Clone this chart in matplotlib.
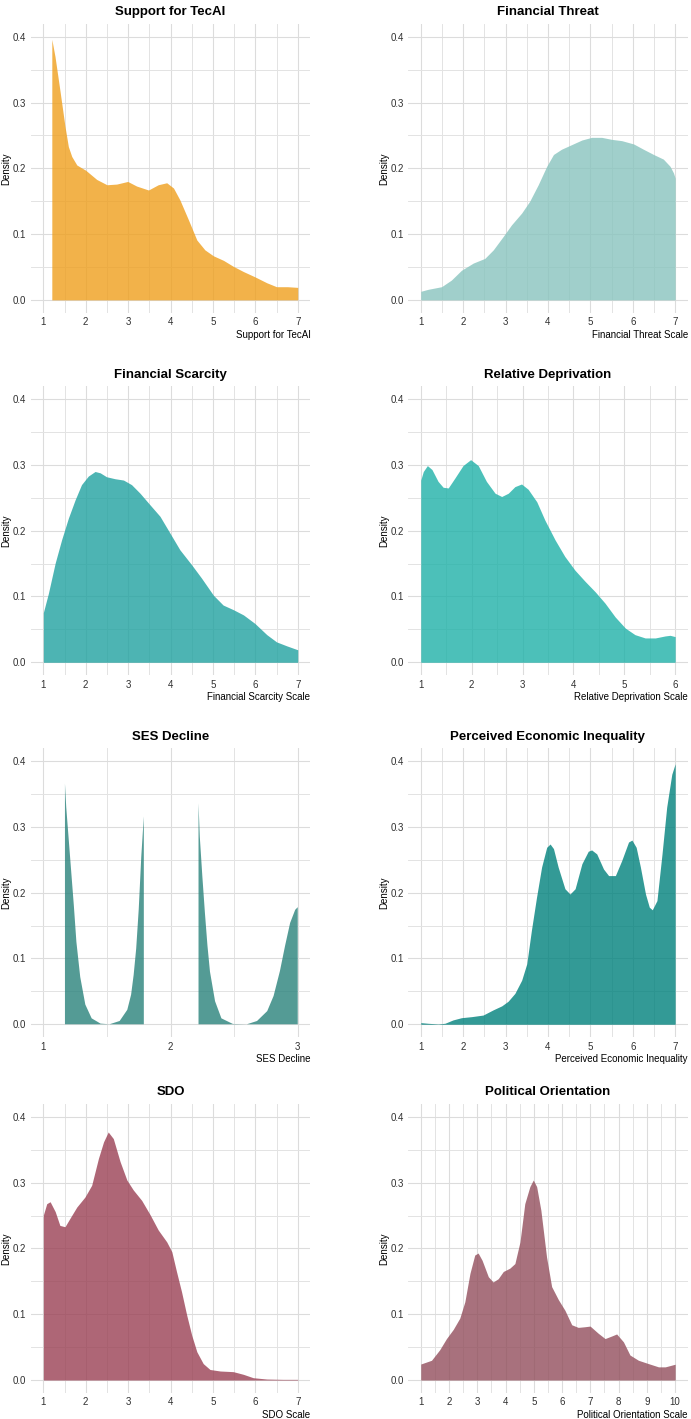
import numpy as np
import matplotlib.pyplot as plt

plt.rcParams['font.family'] = ['Liberation Sans', 'DejaVu Sans']

# titulos, etiquetas y colores de cada panel
titles = ["Support for TecAI", "Financial Threat", "Financial Scarcity", "Relative Deprivation",
          "SES Decline", "Perceived Economic Inequality", "SDO", "Political Orientation"]
xlabels = ["Support for TecAI", "Financial Threat Scale", "Financial Scarcity Scale",
           "Relative Deprivation Scale", "SES Decline", "Perceived Economic Inequality",
           "SDO Scale", "Political Orientation Scale"]
colors = ["#EF9F1D", "#88C4BE", "#20A2A0", "#1FB1A8", "#29827B", "#00817C", "#9A4054", "#924E5C"]
x_ranges = [(1, 7), (1, 7), (1, 7), (1, 6), (1, 3), (1, 7), (1, 7), (1, 10)]

# curvas de densidad
support_x = [1.2, 1.275, 1.39, 1.51, 1.59, 1.67, 1.79, 2.0, 2.26, 2.5, 2.73, 2.99, 3.2, 3.48, 3.71,
             3.91, 4.07, 4.22, 4.42, 4.62, 4.81, 5.01, 5.25, 5.48, 5.72, 5.99, 6.27, 6.5, 6.76, 7.0]
support_y = [0.396, 0.370, 0.319, 0.264, 0.233, 0.218, 0.205, 0.197, 0.183, 0.175, 0.176, 0.180,
             0.173, 0.167, 0.175, 0.178, 0.170, 0.152, 0.122, 0.091, 0.076, 0.067, 0.060, 0.051,
             0.043, 0.035, 0.026, 0.020, 0.020, 0.019]

threat_x = [1.0, 1.17, 1.49, 1.72, 1.96, 2.24, 2.51, 2.71, 2.94, 3.14, 3.38, 3.57, 3.77, 3.97, 4.13,
            4.32, 4.56, 4.80, 5.03, 5.27, 5.50, 5.74, 6.02, 6.25, 6.49, 6.72, 6.88, 6.96, 7.0]
threat_y = [0.013, 0.016, 0.020, 0.030, 0.045, 0.056, 0.063, 0.076, 0.096, 0.114, 0.132, 0.150,
            0.175, 0.203, 0.221, 0.229, 0.236, 0.243, 0.247, 0.247, 0.244, 0.242, 0.237, 0.229,
            0.221, 0.214, 0.203, 0.193, 0.185]

scarcity_x = [1.0, 1.12, 1.28, 1.43, 1.59, 1.75, 1.90, 2.06, 2.22, 2.34, 2.49, 2.69, 2.89, 3.08,
              3.28, 3.52, 3.75, 3.99, 4.22, 4.50, 4.73, 5.01, 5.24, 5.48, 5.72, 5.99, 6.27, 6.50,
              6.74, 7.0]
scarcity_y = [0.0755, 0.105, 0.151, 0.186, 0.219, 0.247, 0.270, 0.283, 0.290, 0.288, 0.282, 0.279,
              0.277, 0.270, 0.257, 0.239, 0.222, 0.196, 0.171, 0.148, 0.128, 0.102, 0.087, 0.080,
              0.072, 0.059, 0.042, 0.031, 0.025, 0.019]

reldep_x = [1.0, 1.05, 1.13, 1.22, 1.34, 1.44, 1.54, 1.67, 1.83, 1.98, 2.13, 2.29, 2.46, 2.59, 2.72,
            2.85, 2.98, 3.11, 3.28, 3.44, 3.64, 3.83, 4.03, 4.23, 4.43, 4.62, 4.82, 5.02, 5.21,
            5.41, 5.61, 5.80, 5.90, 6.0]
reldep_y = [0.277, 0.290, 0.299, 0.293, 0.275, 0.266, 0.265, 0.280, 0.299, 0.308, 0.299, 0.275,
            0.257, 0.252, 0.257, 0.267, 0.271, 0.263, 0.244, 0.216, 0.186, 0.161, 0.140, 0.123,
            0.107, 0.090, 0.069, 0.052, 0.042, 0.037, 0.037, 0.040, 0.041, 0.039]

# los tramos por encima de 0.4 quedan fuera (hueco = nan)
ses_x = [1.17, 1.18, 1.20, 1.22, 1.24, 1.26, 1.29, 1.33, 1.38, 1.45, 1.52, 1.60, 1.66, 1.69, 1.71,
         1.73, 1.75, 1.77, 1.79, 2.0, 2.22, 2.23, 2.25, 2.27, 2.29, 2.31, 2.35, 2.40, 2.49, 2.60,
         2.68, 2.76, 2.81, 2.86, 2.90, 2.94, 2.98, 3.0]
ses_y = [0.366, 0.330, 0.280, 0.230, 0.180, 0.125, 0.072, 0.030, 0.009, 0.001, 0.0, 0.005, 0.022,
         0.045, 0.075, 0.115, 0.175, 0.255, 0.316, np.nan, 0.336, 0.285, 0.225, 0.170, 0.120,
         0.080, 0.035, 0.009, 0.0005, 0.0, 0.005, 0.020, 0.043, 0.081, 0.119, 0.154, 0.174, 0.178]

pei_x = [1.0, 1.17, 1.41, 1.57, 1.76, 1.96, 2.20, 2.47, 2.71, 2.91, 3.06, 3.22, 3.38, 3.50, 3.61,
         3.73, 3.85, 3.97, 4.05, 4.13, 4.24, 4.40, 4.52, 4.64, 4.80, 4.95, 5.03, 5.15, 5.31, 5.43,
         5.59, 5.74, 5.90, 5.98, 6.08, 6.18, 6.30, 6.39, 6.46, 6.57, 6.69, 6.80, 6.92, 7.0]
pei_y = [0.0025, 0.0015, 0.0005, 0.0015, 0.0066, 0.010, 0.0116, 0.014, 0.022, 0.028, 0.035, 0.047,
         0.067, 0.092, 0.143, 0.193, 0.239, 0.269, 0.274, 0.267, 0.239, 0.206, 0.198, 0.206,
         0.244, 0.263, 0.265, 0.259, 0.236, 0.226, 0.226, 0.249, 0.277, 0.280, 0.269, 0.239,
         0.198, 0.178, 0.174, 0.188, 0.259, 0.330, 0.380, 0.396]

sdo_x = [1.0, 1.08, 1.16, 1.28, 1.39, 1.51, 1.63, 1.79, 1.98, 2.14, 2.30, 2.42, 2.53, 2.65, 2.81,
         2.97, 3.12, 3.32, 3.52, 3.71, 3.91, 4.03, 4.14, 4.26, 4.38, 4.50, 4.62, 4.77, 4.93, 5.17,
         5.48, 5.72, 5.95, 6.27, 6.66, 7.0]
sdo_y = [0.2506, 0.268, 0.271, 0.256, 0.235, 0.233, 0.246, 0.263, 0.278, 0.296, 0.337, 0.362,
         0.377, 0.367, 0.332, 0.304, 0.289, 0.273, 0.251, 0.228, 0.210, 0.195, 0.165, 0.134,
         0.099, 0.068, 0.043, 0.025, 0.016, 0.0137, 0.0127, 0.0086, 0.0035, 0.0015, 0.001, 0.001]

polit_x = [1.0, 1.38, 1.67, 1.91, 2.15, 2.38, 2.56, 2.74, 2.91, 3.03, 3.17, 3.39, 3.56, 3.74, 3.92,
           4.15, 4.33, 4.51, 4.68, 4.86, 4.98, 5.10, 5.25, 5.45, 5.63, 5.87, 6.10, 6.34, 6.57,
           6.81, 6.99, 7.28, 7.52, 7.76, 7.93, 8.17, 8.40, 8.70, 9.05, 9.41, 9.65, 10.0]
polit_y = [0.0243, 0.030, 0.046, 0.063, 0.077, 0.094, 0.119, 0.162, 0.190, 0.193, 0.182, 0.157,
           0.149, 0.154, 0.165, 0.170, 0.177, 0.210, 0.268, 0.294, 0.304, 0.294, 0.258, 0.187,
           0.142, 0.122, 0.106, 0.084, 0.080, 0.081, 0.082, 0.071, 0.063, 0.067, 0.070, 0.058,
           0.038, 0.030, 0.025, 0.020, 0.020, 0.024]

curves = [(support_x, support_y), (threat_x, threat_y), (scarcity_x, scarcity_y),
          (reldep_x, reldep_y), (ses_x, ses_y), (pei_x, pei_y), (sdo_x, sdo_y),
          (polit_x, polit_y)]

fig = plt.figure(figsize=(6.91, 14.19), dpi=100)

# posiciones de los paneles (fraccion de figura)
lefts = [0.0443, 0.5905]
bottoms = [0.7794, 0.5240, 0.2689, 0.0182]
w, h = 0.405, 0.2040

for i in range(8):
    row, col = i // 2, i % 2
    ax = fig.add_axes([lefts[col], bottoms[row], w, h])
    lo, hi = x_ranges[i]
    pad = 0.05 * (hi - lo)
    ax.set_xlim(lo - pad, hi + pad)
    ax.set_ylim(-0.02, 0.42)

    # rejilla tipo ggplot minimal
    ax.set_xticks(np.arange(lo, hi + 1))
    ax.set_xticks(np.arange(lo + 0.5, hi, 1), minor=True)
    ax.set_yticks([0.0, 0.1, 0.2, 0.3, 0.4])
    ax.set_yticks([0.05, 0.15, 0.25, 0.35], minor=True)
    ax.set_yticklabels(["0.0", "0.1", "0.2", "0.3", "0.4"])
    ax.grid(which='major', color='#DCDCDC', linewidth=0.8)
    ax.grid(which='minor', color='#E3E3E3', linewidth=0.7)
    ax.set_axisbelow(True)
    for s in ax.spines.values():
        s.set_visible(False)
    ax.tick_params(which='both', length=0, labelsize=7, pad=3)
    for lab in ax.get_xticklabels() + ax.get_yticklabels():
        lab.set_color('#303030')

    xs, ys = curves[i]
    ys = np.array(ys, dtype=float)
    ax.fill_between(xs, 0, ys, where=~np.isnan(ys), color=colors[i], alpha=0.8, linewidth=0)

    ax.set_title(titles[i], fontsize=9.5, fontweight='bold', pad=6)
    ax.set_xlabel(xlabels[i], fontsize=7, loc='right', labelpad=2)
    ax.set_ylabel("Density", fontsize=7, labelpad=1)

fig.savefig("out.png", dpi=100)
